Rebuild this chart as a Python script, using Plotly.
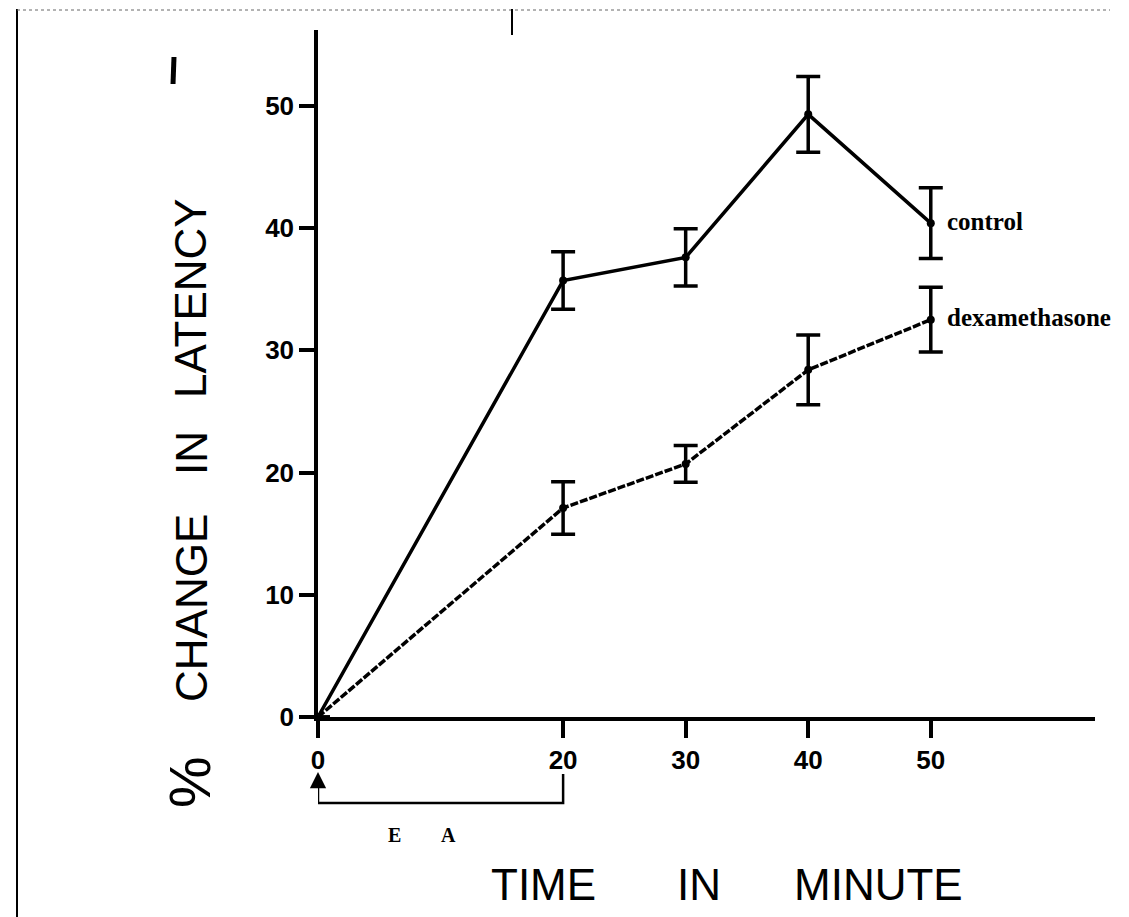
import plotly.graph_objects as go

# ---- data ----
time_min = [0, 20, 30, 40, 50]
control = [0, 35.7, 37.6, 49.3, 40.4]
control_err = [0, 2.35, 2.35, 3.1, 2.9]
dexa = [0, 17.1, 20.7, 28.4, 32.5]
dexa_err = [0, 2.15, 1.5, 2.85, 2.65]
x_ticks = [0, 20, 30, 40, 50]
y_ticks = [0, 10, 20, 30, 40, 50]
series_labels = ["control", "dexamethasone"]

W, H = 1129, 917
OFF = 8  # page body margin
L, R, T, B = 310, 42, 22, 208
pw, ph = W - L - R, H - T - B
X0S, Y0S = L + OFF, H - B + OFF  # screen position of plot-area corner


def px(xs):
    return (xs - X0S) / pw


def py(ys):
    return (Y0S - ys) / ph


fig = go.Figure()
fig.add_trace(go.Scatter(
    x=time_min, y=control, mode="lines+markers", name=series_labels[0],
    line=dict(color="black", width=3.5),
    marker=dict(color="black", size=8),
    error_y=dict(type="data", array=control_err, visible=True,
                 color="black", thickness=3.5, width=12),
    cliponaxis=False, showlegend=False,
))
fig.add_trace(go.Scatter(
    x=time_min, y=dexa, mode="lines+markers", name=series_labels[1],
    line=dict(color="black", width=3.5, dash="8px,2px"),
    marker=dict(color="black", size=8),
    error_y=dict(type="data", array=dexa_err, visible=True,
                 color="black", thickness=3.5, width=12),
    cliponaxis=False, showlegend=False,
))

# series labels at the end of each line
for lab, yv in zip(series_labels, [control[-1], dexa[-1]]):
    fig.add_annotation(x=time_min[-1], y=yv, xref="x", yref="y", text=lab,
                       showarrow=False, xanchor="left", yanchor="middle",
                       xshift=14, yshift=2,
                       font=dict(family="Liberation Serif", size=25,
                                 color="black", weight="bold"))

# axis titles
title_font = dict(family="Liberation Sans", size=44, color="black")
for word, xc in [("TIME", 543), ("IN", 699), ("MINUTE", 878)]:
    fig.add_annotation(x=px(xc), y=py(884), xref="paper", yref="paper",
                       xanchor="center", yanchor="middle",
                       text=word, showarrow=False, font=title_font)
for word, yc in [("CHANGE", 608), ("IN", 453), ("LATENCY", 298)]:
    fig.add_annotation(x=px(191), y=py(yc), xref="paper", yref="paper",
                       xanchor="center", yanchor="middle",
                       text=word, showarrow=False, textangle=-90,
                       font=title_font)
fig.add_annotation(x=px(189), y=py(782), xref="paper", yref="paper",
                   xanchor="center", yanchor="middle",
                   text="%", showarrow=False, textangle=-90,
                   font=dict(family="Liberation Sans", size=58, color="black"))

# EA bracket (0-20 min period)
fig.add_shape(type="path", xref="x", yref="paper",
              path=f"M {x_ticks[0]},{py(780)} L {x_ticks[0]},{py(803)} "
                   f"L {x_ticks[1]},{py(803)} L {x_ticks[1]},{py(774)}",
              line=dict(color="black", width=2.5))
fig.add_annotation(x=x_ticks[0], y=py(772), xref="x", yref="paper",
                   ax=0, ay=14, text="", showarrow=True, arrowhead=2,
                   arrowsize=1.3, arrowwidth=2.5, arrowcolor="black")
for ch, xc in [("E", 394), ("A", 448)]:
    fig.add_annotation(x=px(xc), y=py(835), xref="paper", yref="paper",
                       xanchor="center", yanchor="middle",
                       text=ch, showarrow=False,
                       font=dict(family="Liberation Serif", size=20,
                                 color="black", weight="bold"))

# scan border marks
fig.add_shape(type="line", xref="paper", yref="paper",
              x0=px(17), x1=px(17), y0=py(917), y1=py(9),
              line=dict(color="black", width=2))
fig.add_shape(type="line", xref="paper", yref="paper",
              x0=px(17), x1=px(1110), y0=py(10), y1=py(10),
              line=dict(color="#666666", width=1, dash="dot"))
fig.add_shape(type="line", xref="paper", yref="paper",
              x0=px(512), x1=px(512), y0=py(35), y1=py(9),
              line=dict(color="black", width=2))
fig.add_shape(type="line", xref="paper", yref="paper",
              x0=px(173), x1=px(174), y0=py(84), y1=py(57),
              line=dict(color="black", width=5))

tick_font = dict(family="Liberation Sans", size=26, color="black",
                 weight="bold")
fig.update_xaxes(range=[0, 63.4], tickvals=x_ticks,
                 ticktext=[str(v) for v in x_ticks],
                 showline=True, linecolor="black", linewidth=3.5,
                 ticks="outside", ticklen=17, tickwidth=3.5, tickcolor="black",
                 showgrid=False, zeroline=False, tickfont=tick_font)
fig.update_yaxes(range=[0, 56.2], tickvals=y_ticks,
                 ticktext=[str(v) for v in y_ticks],
                 showline=True, linecolor="black", linewidth=3.5,
                 ticks="outside", ticklen=15, tickwidth=3.5, tickcolor="black",
                 showgrid=False, zeroline=False, tickfont=tick_font)
fig.update_layout(width=W, height=H, margin=dict(l=L, r=R, t=T, b=B),
                  plot_bgcolor="white", paper_bgcolor="white",
                  showlegend=False)
fig.write_html("out.html")
